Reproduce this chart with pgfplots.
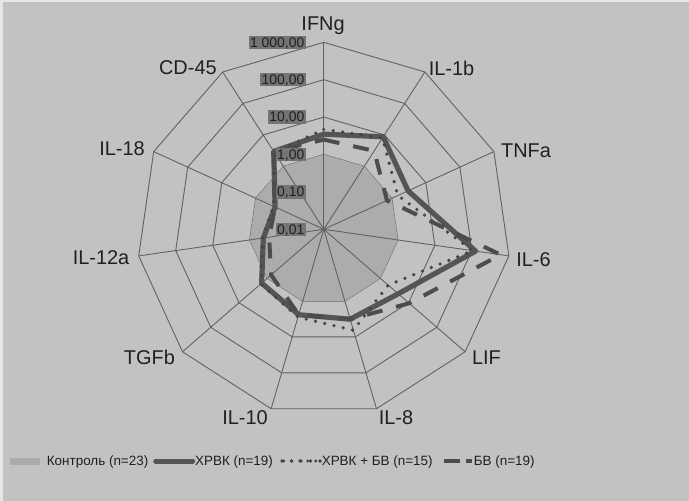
\documentclass[border=0pt]{standalone}
\usepackage{pgfplots}
\pgfplotsset{compat=1.18}
\usepackage{pgfplotstable}
\usepackage{fontspec}
\setmainfont{Liberation Sans}
\definecolor{bgc}{RGB}{194,194,194}
\definecolor{ctrlc}{RGB}{172,172,172}
\definecolor{gridc}{RGB}{98,98,98}
\definecolor{solidc}{RGB}{85,85,85}
\definecolor{dotc}{RGB}{68,68,68}
\definecolor{dashc}{RGB}{76,76,76}
\definecolor{txtc}{RGB}{32,32,32}
\definecolor{boxc}{RGB}{116,116,116}

% k = category index (clockwise from top); values on a log scale 0.01 ... 1000
\pgfplotstableread{
k  ctrl s1    s2    s3
0  1    3.5   4.7   2.5
1  1    8.7   8.0   3.1
2  1    3.0   1.5   0.72
3  1    126   105   600
4  1    4.3   1.9   10.5
5  1    3.2   6.5   3.2
6  1    2.4   2.8   2.4
7  1    1.58  1.7   0.73
8  1    0.43  0.45  0.30
9  1    0.27  0.30  0.27
10 1    3.0   2.8   3.0
11 1    3.5   4.7   2.5
}\data

\begin{document}
\begin{tikzpicture}
\useasboundingbox (0,0) rectangle (689bp,-501bp);
\fill[bgc] (0,0) rectangle (689bp,-501bp);
\fill[white!60!bgc] (0,0) rectangle (689bp,-2bp);
\fill[white!60!bgc] (0,0) rectangle (2.5bp,-501bp);
\begin{axis}[
  at={(0,0)}, anchor=north west,
  x=37.4bp, y=37.4bp,
  xmin=-8.6578, xmax=9.7647, ymin=-7.2647, ymax=6.1310,
  hide axis, clip=false,
  legend columns=4,
  legend cell align=left,
  legend style={at={(0.01451,0.0798)}, anchor=west, draw=none, fill=none,
    inner sep=0pt, column sep=0pt, row sep=0pt,
    font=\fontsize{13.5}{16}\selectfont, text=txtc,
    nodes={inner sep=0pt}},
]
% rings
\pgfplotsinvokeforeach{1,...,5}{
  \addplot[gridc, line width=0.9bp, forget plot]
    table[x expr={#1*cos(90-\thisrow{k}*32.7272727)}, y expr={#1*sin(90-\thisrow{k}*32.7272727)}] {\data};
}
% control
\addplot[draw=none, fill=ctrlc,
  legend image code/.code={\path (0,0) -- (36.7bp,0); \fill[ctrlc] (0,-3.5bp) rectangle (30bp,3.5bp);}]
  table[x expr={(log10(\thisrow{ctrl})+2)*cos(90-\thisrow{k}*32.7272727)},
        y expr={(log10(\thisrow{ctrl})+2)*sin(90-\thisrow{k}*32.7272727)}] {\data};
\addlegendentry{\makebox[106.3bp][l]{Контроль (n=23)}}
% spokes
\pgfplotsinvokeforeach{0,...,10}{
  \addplot[gridc, line width=0.9bp, forget plot]
    table[row sep=\\, x expr={\thisrow{r}*cos(90-#1*32.7272727)}, y expr={\thisrow{r}*sin(90-#1*32.7272727)}] {r\\0\\5\\};
}
% XPBK
\addplot[solidc, line width=5.2bp, line join=round, line cap=round,
  legend image code/.code={\draw[solidc, line width=5bp] (0,0) -- (37bp,0);}]
  table[x expr={(log10(\thisrow{s1})+2)*cos(90-\thisrow{k}*32.7272727)},
        y expr={(log10(\thisrow{s1})+2)*sin(90-\thisrow{k}*32.7272727)}] {\data};
\addlegendentry{\makebox[85bp][l]{ХРВК (n=19)}}
% XPBK + BV
\addplot[dotc, line width=3.6bp, line cap=round, dash pattern=on 0pt off 9.5bp,
  legend image code/.code={\path (0,0) -- (38bp,0); \draw[dotc, line width=3.3bp, line cap=round, dash pattern=on 0pt off 8bp] (1.7bp,0) -- (34bp,0);}]
  table[x expr={(log10(\thisrow{s2})+2)*cos(90-\thisrow{k}*32.7272727)},
        y expr={(log10(\thisrow{s2})+2)*sin(90-\thisrow{k}*32.7272727)}] {\data};
\addlegendentry{\makebox[120bp][l]{ХРВК + БВ (n=15)}}
% BV
\addplot[dashc, line width=4bp, dash pattern=on 16bp off 14bp,
  legend image code/.code={\path (0,0) -- (28bp,0); \draw[dashc, line width=4bp] (0,0) -- (13bp,0); \draw[dashc, line width=4bp] (22bp,0) -- (28bp,0);}]
  table[x expr={(log10(\thisrow{s3})+2)*cos(90-\thisrow{k}*32.7272727)},
        y expr={(log10(\thisrow{s3})+2)*sin(90-\thisrow{k}*32.7272727)}] {\data};
\addlegendentry{БВ (n=19)}
% radial tick labels
\begin{scope}[every node/.style={anchor=east, fill=boxc, text=txtc, inner sep=1.5bp,
   text height=10bp, text depth=0.5bp, font=\fontsize{14}{16}\selectfont}]
\node at (axis cs:-0.476,0) {0,01};
\node at (axis cs:-0.476,1) {0,10};
\node at (axis cs:-0.476,2) {1,00};
\node at (axis cs:-0.476,3) {10,00};
\node at (axis cs:-0.476,4) {100,00};
\node at (axis cs:-0.476,5) {1 000,00};
\end{scope}
% category labels
\begin{scope}[every node/.style={text=txtc, inner sep=0pt, font=\fontsize{20}{24}\selectfont}]
\node at (axis cs:-0.02,5.436) {IFNg};
\node at (axis cs:3.414,4.313) {IL-1b};
\node at (axis cs:5.406,2.094) {TNFa};
\node at (axis cs:5.607,-0.821) {IL-6};
\node at (axis cs:4.350,-3.441) {LIF};
\node at (axis cs:1.930,-5.032) {IL-8};
\node at (axis cs:-2.107,-5.032) {IL-10};
\node at (axis cs:-4.663,-3.428) {TGFb};
\node at (axis cs:-5.957,-0.767) {IL-12a};
\node at (axis cs:-5.396,2.147) {IL-18};
\node at (axis cs:-3.634,4.326) {CD-45};
\end{scope}
\end{axis}
\end{tikzpicture}
\end{document}
